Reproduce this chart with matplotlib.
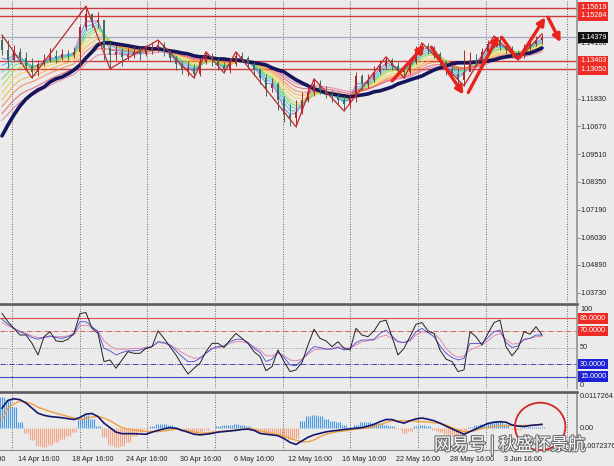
"""EURUSD H4 screenshot (price + RSI + MACD panes) redrawn with matplotlib."""

import matplotlib.pyplot as plt
import matplotlib.patheffects as pe
import numpy as np
from matplotlib.lines import Line2D
from matplotlib.patches import Ellipse, FancyArrowPatch
from matplotlib.transforms import blended_transform_factory

plt.rcParams.update({
    "font.family": ["Liberation Sans", "DejaVu Sans"],
    "font.size": 5.2,
})

# ---- data, one sample per chart column ----
date_labels = ["10 Apr 16:00", "14 Apr 16:00", "18 Apr 16:00", "24 Apr 16:00",
               "30 Apr 16:00", "6 May 16:00", "12 May 16:00", "16 May 16:00",
               "22 May 16:00", "28 May 16:00", "3 Jun 16:00"]

first_open = 1.1427
closes = [1.1386, 1.1344, 1.1378, 1.1352, 1.1319, 1.1294, 1.1328, 1.1344, 1.1361, 1.1352,
          1.1369, 1.1365, 1.1378, 1.1482, 1.1536, 1.1503, 1.1511, 1.1394, 1.1365, 1.1378,
          1.1357, 1.1365, 1.1378, 1.1369, 1.1386, 1.1394, 1.1407, 1.1378, 1.1352, 1.1328,
          1.1302, 1.1311, 1.1286, 1.1336, 1.1361, 1.1344, 1.1319, 1.1302, 1.1328, 1.1361,
          1.1352, 1.1328, 1.1302, 1.1269, 1.1227, 1.1244, 1.1177, 1.1115, 1.1102, 1.1127,
          1.1177, 1.1211, 1.1244, 1.1219, 1.1202, 1.1194, 1.1177, 1.1160, 1.1186, 1.1277,
          1.1244, 1.1261, 1.1294, 1.1319, 1.1344, 1.1319, 1.1302, 1.1294, 1.1336, 1.1378,
          1.1403, 1.1394, 1.1369, 1.1336, 1.1302, 1.1286, 1.1261, 1.1294, 1.1344, 1.1336,
          1.1378, 1.1411, 1.1427, 1.1403, 1.1386, 1.1369, 1.1361, 1.1394, 1.1411, 1.1427,
          1.1438]
highs = [1.1448, 1.1427, 1.1407, 1.1394, 1.1378, 1.1352, 1.1344, 1.1369, 1.1394, 1.1386,
         1.1390, 1.1386, 1.1398, 1.1490, 1.1569, 1.1540, 1.1544, 1.1478, 1.1419, 1.1407,
         1.1394, 1.1394, 1.1403, 1.1398, 1.1407, 1.1419, 1.1427, 1.1419, 1.1386, 1.1361,
         1.1336, 1.1336, 1.1328, 1.1352, 1.1378, 1.1373, 1.1352, 1.1336, 1.1352, 1.1378,
         1.1378, 1.1361, 1.1336, 1.1311, 1.1286, 1.1269, 1.1252, 1.1194, 1.1160, 1.1177,
         1.1211, 1.1236, 1.1265, 1.1261, 1.1236, 1.1219, 1.1211, 1.1194, 1.1202, 1.1294,
         1.1286, 1.1286, 1.1319, 1.1344, 1.1357, 1.1352, 1.1336, 1.1319, 1.1352, 1.1403,
         1.1415, 1.1415, 1.1403, 1.1378, 1.1344, 1.1319, 1.1311, 1.1386, 1.1378, 1.1369,
         1.1394, 1.1427, 1.1444, 1.1440, 1.1419, 1.1403, 1.1386, 1.1411, 1.1436, 1.1444,
         1.1453]
lows = [1.1365, 1.1311, 1.1336, 1.1328, 1.1302, 1.1269, 1.1277, 1.1319, 1.1336, 1.1332,
        1.1344, 1.1344, 1.1352, 1.1315, 1.1469, 1.1482, 1.1478, 1.1344, 1.1307, 1.1344,
        1.1319, 1.1344, 1.1352, 1.1344, 1.1361, 1.1369, 1.1378, 1.1361, 1.1336, 1.1302,
        1.1286, 1.1277, 1.1269, 1.1277, 1.1328, 1.1319, 1.1302, 1.1290, 1.1290, 1.1319,
        1.1336, 1.1311, 1.1277, 1.1244, 1.1194, 1.1211, 1.1135, 1.1085, 1.1069, 1.1065,
        1.1119, 1.1169, 1.1194, 1.1202, 1.1186, 1.1169, 1.1160, 1.1131, 1.1144, 1.1169,
        1.1219, 1.1227, 1.1252, 1.1286, 1.1311, 1.1302, 1.1286, 1.1269, 1.1286, 1.1328,
        1.1369, 1.1369, 1.1352, 1.1319, 1.1282, 1.1261, 1.1244, 1.1236, 1.1311, 1.1319,
        1.1328, 1.1369, 1.1394, 1.1386, 1.1369, 1.1352, 1.1344, 1.1352, 1.1386, 1.1403,
        1.1411]
ma_slow = [1.1027, 1.1073, 1.1115, 1.1152, 1.1181, 1.1202, 1.1219, 1.1231, 1.1252, 1.1265,
           1.1273, 1.1286, 1.1302, 1.1323, 1.1352, 1.1378, 1.1407, 1.1415, 1.1415, 1.1411,
           1.1407, 1.1403, 1.1398, 1.1394, 1.1394, 1.1390, 1.1390, 1.1386, 1.1382, 1.1378,
           1.1373, 1.1369, 1.1361, 1.1357, 1.1357, 1.1352, 1.1348, 1.1348, 1.1344, 1.1344,
           1.1340, 1.1336, 1.1332, 1.1328, 1.1323, 1.1311, 1.1302, 1.1294, 1.1277, 1.1261,
           1.1248, 1.1236, 1.1223, 1.1215, 1.1206, 1.1202, 1.1198, 1.1194, 1.1190, 1.1194,
           1.1198, 1.1202, 1.1211, 1.1215, 1.1223, 1.1231, 1.1244, 1.1252, 1.1261, 1.1269,
           1.1277, 1.1290, 1.1302, 1.1311, 1.1319, 1.1328, 1.1332, 1.1332, 1.1332, 1.1336,
           1.1336, 1.1340, 1.1344, 1.1352, 1.1357, 1.1361, 1.1365, 1.1369, 1.1373, 1.1382,
           1.1394]

# swing points of the zigzag (column index, 'H' = high / 'L' = low)
zigzag_idx = [0, 5, 14, 18, 26, 32, 34, 37, 39, 49, 52, 57, 64, 67, 70, 77, 82, 86, 90]
zigzag_kind = ["H", "L", "H", "L", "H", "L", "H", "L", "H", "L",
               "H", "L", "H", "L", "H", "L", "H", "L", "H"]

# hand-drawn arrows: (x0, price0, x1, price1, has_head)
arrows = [(64.7, 1.1248, 70.8, 1.1415, True),
          (71.3, 1.1407, 77.2, 1.1190, True),
          (77.5, 1.1198, 83.0, 1.1457, True),
          (83.0, 1.1448, 86.0, 1.1344, False),
          (86.0, 1.1344, 90.8, 1.1532, True),
          (90.8, 1.1532, 93.3, 1.1407, True)]

red_levels = [1.15619, 1.15284, 1.13403, 1.13050]
last_price = 1.14379
price_ticks = [1.14150, 1.11830, 1.10670, 1.09510, 1.08350,
               1.07190, 1.06030, 1.04890, 1.03730]

rsi_fast = [91, 81, 73, 65, 65, 55, 41, 63, 69, 58, 57, 60, 67, 91, 92, 73, 67, 33, 35, 25,
            35, 45, 43, 43, 49, 51, 70, 61, 51, 41, 29, 18, 25, 31, 45, 55, 55, 50, 59, 67,
            61, 55, 45, 39, 22, 27, 47, 33, 21, 23, 32, 53, 72, 61, 58, 51, 57, 49, 47, 73,
            65, 63, 70, 81, 83, 63, 41, 49, 63, 78, 80, 70, 67, 47, 36, 33, 21, 23, 69, 63,
            53, 67, 80, 83, 51, 40, 49, 69, 66, 75, 65]
rsi_mid = [84, 78, 73, 69, 66, 62, 60, 62, 64, 62, 61, 63, 67, 81, 81, 75, 69, 49, 46, 41,
           44, 46, 46, 47, 49, 51, 57, 56, 53, 46, 39, 33, 33, 37, 43, 49, 51, 52, 57, 60,
           60, 56, 49, 44, 33, 36, 44, 38, 29, 28, 35, 44, 51, 50, 48, 48, 50, 47, 49, 56,
           59, 59, 60, 67, 71, 64, 57, 56, 59, 69, 73, 68, 63, 52, 43, 38, 35, 37, 55, 55,
           55, 62, 69, 71, 56, 50, 52, 60, 61, 65, 65]
rsi_slow = [80, 76, 73, 69, 67, 64, 62, 62, 63, 63, 63, 64, 65, 76, 77, 74, 70, 58, 52, 48,
            48, 48, 49, 49, 50, 51, 56, 55, 53, 49, 44, 40, 37, 38, 43, 48, 50, 51, 55, 57,
            57, 55, 51, 47, 40, 40, 44, 40, 35, 34, 36, 42, 47, 48, 48, 49, 51, 50, 49, 53,
            57, 58, 59, 63, 65, 61, 57, 56, 58, 65, 69, 68, 67, 60, 49, 42, 38, 40, 47, 50,
            53, 58, 64, 67, 60, 54, 55, 59, 61, 63, 63]
rsi_levels = [85, 70, 50, 30, 15]

macd_main = [0.0067, 0.0093, 0.0098, 0.0095, 0.0084, 0.0067, 0.0050, 0.0043, 0.0039, 0.0037,
             0.0035, 0.0032, 0.0029, 0.0036, 0.0047, 0.0049, 0.0039, 0.0017, 0.0002, -0.0013,
             -0.0018, -0.0018, -0.0018, -0.0019, -0.0020, -0.0013, -0.0007, -0.0002, 0.0002, 0.0000,
             -0.0007, -0.0013, -0.0020, -0.0022, -0.0020, -0.0017, -0.0013, -0.0011, -0.0009, -0.0007,
             -0.0004, -0.0003, -0.0007, -0.0017, -0.0020, -0.0022, -0.0025, -0.0034, -0.0047, -0.0054,
             -0.0042, -0.0030, -0.0022, -0.0017, -0.0012, -0.0009, -0.0007, -0.0004, -0.0002, 0.0000,
             0.0002, 0.0007, 0.0013, 0.0022, 0.0029, 0.0029, 0.0022, 0.0017, 0.0025, 0.0031,
             0.0034, 0.0030, 0.0025, 0.0017, 0.0007, -0.0002, -0.0011, -0.0020, -0.0011, -0.0002,
             0.0007, 0.0016, 0.0020, 0.0022, 0.0020, 0.0011, 0.0007, 0.0006, 0.0009, 0.0011,
             0.0013]
macd_signal = [0.0028, 0.0067, 0.0081, 0.0090, 0.0087, 0.0081, 0.0070, 0.0063, 0.0056, 0.0050,
               0.0045, 0.0039, 0.0034, 0.0029, 0.0034, 0.0037, 0.0039, 0.0034, 0.0025, 0.0013,
               0.0002, -0.0003, -0.0006, -0.0008, -0.0011, -0.0011, -0.0011, -0.0009, -0.0006, -0.0003,
               -0.0006, -0.0009, -0.0012, -0.0017, -0.0016, -0.0013, -0.0011, -0.0009, -0.0008, -0.0006,
               -0.0003, -0.0001, -0.0003, -0.0009, -0.0013, -0.0017, -0.0020, -0.0025, -0.0034, -0.0040,
               -0.0045, -0.0045, -0.0039, -0.0028, -0.0020, -0.0015, -0.0011, -0.0009, -0.0006, -0.0003,
               -0.0001, 0.0001, 0.0006, 0.0011, 0.0019, 0.0025, 0.0025, 0.0025, 0.0025, 0.0023,
               0.0022, 0.0021, 0.0018, 0.0016, 0.0011, 0.0002, -0.0006, -0.0011, -0.0011, -0.0007,
               -0.0001, 0.0002, 0.0006, 0.0008, 0.0009, 0.0009, 0.0009, 0.0009, 0.0010, 0.0011,
               0.0011]
macd_hist = [0.0105, 0.0095, 0.0072, 0.0020, -0.0015, -0.0040, -0.0058, -0.0062, -0.0055, -0.0045,
             -0.0035, -0.0025, -0.0012, 0.0035, 0.0045, 0.0030, 0.0008, -0.0030, -0.0055, -0.0062,
             -0.0058, -0.0045, -0.0025, -0.0012, -0.0003, 0.0008, 0.0015, 0.0013, 0.0010, 0.0003,
             -0.0008, -0.0012, -0.0015, -0.0012, -0.0006, 0.0002, 0.0008, 0.0010, 0.0012, 0.0013,
             0.0012, 0.0006, -0.0005, -0.0012, -0.0018, -0.0022, -0.0020, -0.0030, -0.0035, -0.0032,
             0.0025, 0.0040, 0.0045, 0.0040, 0.0030, 0.0025, 0.0020, 0.0010, -0.0004, 0.0012,
             0.0022, 0.0020, 0.0018, 0.0016, 0.0012, 0.0006, -0.0004, -0.0015, -0.0008, 0.0008,
             0.0012, 0.0006, -0.0005, -0.0012, -0.0018, -0.0025, -0.0028, -0.0020, 0.0004, 0.0010,
             0.0013, 0.0018, 0.0025, 0.0025, 0.0015, -0.0004, -0.0006, 0.0003, 0.0004, 0.0005,
             0.0004]
macd_top, macd_bottom = 0.0117264, -0.0072376

# ---- layout (pixels of the 614x466 output) ----
W, H = 614, 466
AX_RIGHT = 577
PX_PER_COL = 6
grid_px = [12, 80, 147, 215, 283, 350, 418, 486, 567]

BG = "#ebebeb"
RED_BOX = "#ee2b24"
BLUE_BOX = "#1d22d6"
GRID = "#3a3a3a"


def rect(top, bottom):
    return [0, 1 - bottom / H, AX_RIGHT / W, (bottom - top) / H]


def col(px):
    return (px - 2) / PX_PER_COL


def ema(values, period, seed):
    a = 2.0 / (period + 1)
    out = [seed]
    for v in values[1:]:
        out.append(out[-1] + a * (v - out[-1]))
    return np.array(out)


def side_label(ax, y, text, box=None, va="center"):
    tr = blended_transform_factory(ax.transAxes, ax.transData)
    kw = dict(transform=tr, ha="left", va=va, clip_on=False, zorder=10)
    if box:
        ax.text(1 + 3 / AX_RIGHT, y, text, color="white",
                bbox=dict(boxstyle="square,pad=0.25", fc=box, ec="none"), **kw)
    else:
        ax.text(1 + 3 / AX_RIGHT, y, text, color="#222222", **kw)


fig = plt.figure(figsize=(W / 100, H / 100), dpi=100, facecolor=BG)
ax_p = fig.add_axes(rect(0, 302))
ax_r = fig.add_axes(rect(306, 389))
ax_m = fig.add_axes(rect(393, 450))

xlim = (col(0), col(AX_RIGHT))
for ax in (ax_p, ax_r, ax_m):
    ax.set_facecolor(BG)
    ax.set_xlim(*xlim)
    ax.set_xticks([])
    for s in ("top", "left", "bottom"):
        ax.spines[s].set_visible(False)
    ax.spines["right"].set_color("#8a8a8a")
    ax.spines["right"].set_linewidth(1.1)
    for gx in grid_px:
        ax.axvline(col(gx), color=GRID, lw=0.6, ls=(0, (1, 2)), zorder=0.5)

x = np.arange(len(closes))
closes_a = np.array(closes)
opens = np.r_[first_open, closes_a[:-1]]

# ---- price pane ----
ax_p.set_ylim(1.0334, 1.1594)
for lv in red_levels:
    ax_p.axhline(lv, color="#cf3a3a", lw=1.0, zorder=1)
ax_p.axhline(last_price, color="#a3a8c8", lw=0.9, zorder=1)

ribbon_periods = [2, 3, 4, 5, 6, 8, 10, 12, 15, 18]
ribbon_colors = ["#5f74e0", "#3fa9ee", "#2cc9c0", "#5fd35a", "#b2da2e",
                 "#f2d22e", "#f8a834", "#f47a3e", "#e9505a", "#e2709e"]
for k, (p, c) in enumerate(zip(ribbon_periods, ribbon_colors)):
    seed = ma_slow[0] + (closes[0] - ma_slow[0]) * (0.9 - 0.08 * k)
    ax_p.plot(x, ema(closes, p, seed), color=c, lw=0.8, alpha=0.75, zorder=2)

ax_p.plot(x, ma_slow, color="#15155c", lw=2.6, solid_capstyle="round", zorder=3)

up = closes_a >= opens
cc = np.where(up, "#b3262a", "#3f6e5c")
ax_p.vlines(x, lows, highs, colors=cc, lw=0.7, zorder=4)
ax_p.bar(x, closes_a - opens, bottom=opens, width=0.45, color=cc, zorder=4)

zz_y = [highs[i] if k == "H" else lows[i] for i, k in zip(zigzag_idx, zigzag_kind)]
ax_p.plot(zigzag_idx, zz_y, color="#c0282c", lw=0.9, zorder=5)

for x0, y0, x1, y1, head in arrows:
    ax_p.add_patch(FancyArrowPatch(
        (x0, y0), (x1, y1), arrowstyle="-|>" if head else "-",
        mutation_scale=11, lw=2.4, color="#e8231c", zorder=6, clip_on=False))

ax_p.yaxis.tick_right()
ax_p.set_yticks(price_ticks)
ax_p.set_yticklabels([f"{t:.5f}" for t in price_ticks])
ax_p.tick_params(axis="y", length=1.8, width=0.6, color="#707070", pad=1,
                 labelsize=5.2, labelcolor="#222222")
for lv in red_levels:
    side_label(ax_p, lv, f"{lv:.5f}", box=RED_BOX)
side_label(ax_p, last_price, f"{last_price:.5f}", box="#111111")

# ---- RSI pane ----
ax_r.set_ylim(0, 100)
ax_r.set_yticks([])
level_style = {85: ("#e04848", "-", 0.8), 70: ("#cc4a4a", "-.", 0.6),
               50: ("#888888", ":", 0.6), 30: ("#2e2eaa", "-.", 0.6),
               15: ("#4646c4", "-", 0.8)}
for lv in rsi_levels:
    c, ls, lw = level_style[lv]
    ax_r.axhline(lv, color=c, ls=ls, lw=lw, zorder=1)
ax_r.plot(x, rsi_slow, color="#e27aa6", lw=0.6, zorder=2)
ax_r.plot(x, rsi_mid, color="#4646d0", lw=0.6, zorder=3)
ax_r.plot(x, rsi_fast, color="#222222", lw=0.7, zorder=4)
side_label(ax_r, 100, "100", va="top")
side_label(ax_r, 85, "85.0000", box=RED_BOX)
side_label(ax_r, 70, "70.0000", box=RED_BOX)
side_label(ax_r, 50, "50")
side_label(ax_r, 30, "30.0000", box=BLUE_BOX)
side_label(ax_r, 15, "15.0000", box=BLUE_BOX)
side_label(ax_r, 0, "0", va="bottom")

# ---- MACD pane ----
ax_m.set_ylim(macd_bottom, macd_top)
ax_m.set_yticks([])
ax_m.spines["bottom"].set_visible(True)
ax_m.spines["bottom"].set_color("#8a8a8a")
ax_m.spines["bottom"].set_linewidth(0.8)
hist = np.array(macd_hist)
sub = np.array([-0.33, 0.0, 0.33])
hx = (x[:, None] + sub[None, :]).ravel()
hv = np.repeat(hist, 3)
ax_m.vlines(hx, 0, hv, colors=np.where(hv >= 0, "#4a9be6", "#f6a383"), lw=0.8, zorder=1)
ax_m.plot(x, macd_signal, color="#f0a13e", lw=1.0, zorder=3)
ax_m.plot(x, macd_main, color="#16166e", lw=1.2, zorder=4)
ax_m.add_patch(Ellipse((89.7, 0.0006), 8.4, 0.0158, fill=False, ec="#d3262a",
                       lw=1.3, zorder=6, clip_on=False))
side_label(ax_m, macd_top, f"{macd_top:.7f}", va="top")
side_label(ax_m, 0, "0.00")
side_label(ax_m, macd_bottom, f"{macd_bottom:.7f}", va="bottom")

tr = blended_transform_factory(ax_m.transData, ax_m.transAxes)
for k, lab in enumerate(date_labels):
    ax_m.text(-6.4 + 9 * k, -0.16, lab, transform=tr, ha="left", va="center",
              color="#222222", clip_on=False)

# pane separators
for ysep in (303.5, 391.5):
    fig.add_artist(Line2D([0, AX_RIGHT / W], [1 - ysep / H] * 2,
                          color="#5c5c5c", lw=1.9))

fig.text(434 / W, 1 - 445 / H, "网易号 | 秋盛怀景航", fontsize=12.5, color="white",
         family=["Noto Sans CJK SC", "DejaVu Sans"], va="center", ha="left",
         path_effects=[pe.withStroke(linewidth=1.6, foreground="#6e6e6e")], zorder=20)

fig.savefig("out.png", dpi=100, facecolor=BG)
